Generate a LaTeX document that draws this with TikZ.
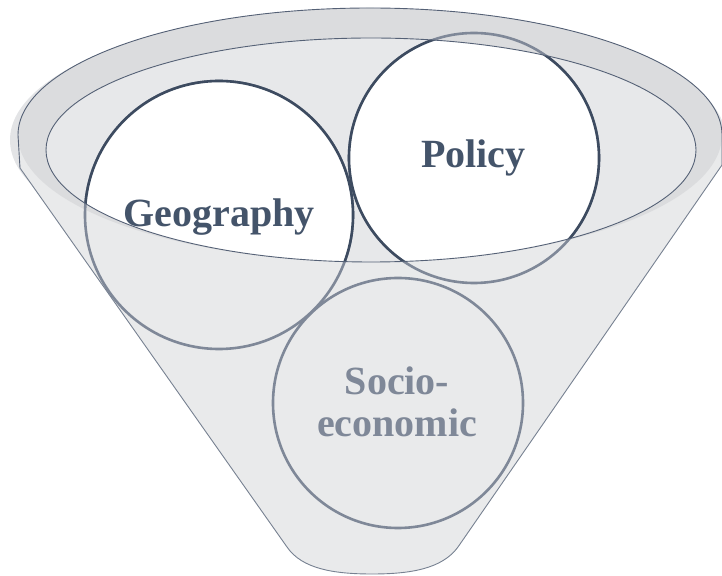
\documentclass[tikz,border=0pt]{standalone}
\usepackage{fontspec}
\setmainfont{Liberation Serif}
\definecolor{shadowgray}{HTML}{E3E4E6}
\definecolor{bodygray}{HTML}{E9EAEB}
\definecolor{ringgray}{HTML}{DBDCDE}
\definecolor{innergray}{HTML}{E7E8EA}
\definecolor{edgecol}{HTML}{556176}
\definecolor{darkcirc}{HTML}{3D4B60}
\definecolor{lightcirc}{HTML}{7F8898}
\definecolor{darktext}{HTML}{44546A}
\begin{document}
\begin{tikzpicture}[x=1pt,y=1pt,
  circdark/.style={draw=darkcirc,line width=2.6pt},
  circlight/.style={draw=lightcirc,line width=2.6pt},
  lbl/.style={font=\bfseries\fontsize{40}{42}\selectfont,inner sep=0pt,align=center}]
\useasboundingbox (0,0) rectangle (722,575);
% soft shadow of the rim
\fill[shadowgray] (368,435) ellipse [x radius=358, y radius=130];
% funnel body
\path[fill=bodygray] (20,407) -- (18,440)
  arc[start angle=180, end angle=0, x radius=352, y radius=127]
  -- (722,410) -- (458,28)
  .. controls (442,6) and (410,1) .. (372,1)
  .. controls (334,1) and (302,6) .. (287,28) -- cycle;
% rim ring and inner opening
\fill[ringgray] (370,440) ellipse [x radius=352, y radius=127];
\fill[innergray] (371,425) ellipse [x radius=325, y radius=112];
% circles
\coordinate (cg) at (219,360);
\coordinate (cp) at (474,417);
\coordinate (cs) at (398,172);
\draw[circlight] (cs) circle [radius=125];
\draw[circlight] (cg) circle [radius=134];
\draw[circlight] (cp) circle [radius=125];
\begin{scope}
  \clip (371,425) ellipse [x radius=325, y radius=112];
  \fill[white] (cg) circle [radius=134];
  \fill[white] (cp) circle [radius=125];
  \draw[circdark] (cg) circle [radius=134];
  \draw[circdark] (cp) circle [radius=125];
\end{scope}
% outlines
\draw[edgecol,line width=0.9pt] (20,407) -- (18,440)
  arc[start angle=180, end angle=0, x radius=352, y radius=127]
  -- (722,410);
\draw[edgecol!80,line width=0.9pt] (722,410) -- (458,28)
  .. controls (442,6) and (410,1) .. (372,1)
  .. controls (334,1) and (302,6) .. (287,28) -- (20,407);
\draw[edgecol,line width=0.9pt] (371,425) ellipse [x radius=325, y radius=112];
% labels
\node[lbl,text=darktext,anchor=base] (geo) at (219,348) {Geography};
\node[lbl,text=darktext,anchor=base] (pol) at (473.5,407) {Policy};
\node[lbl,text=lightcirc,anchor=center] (soc) at (397,173) {Socio-\\economic};
\end{tikzpicture}
\end{document}
